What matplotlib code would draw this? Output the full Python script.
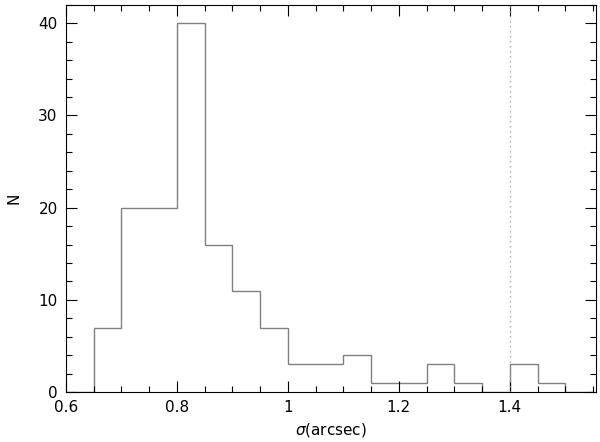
import matplotlib
matplotlib.use('Agg')
import matplotlib.pyplot as plt
from matplotlib.ticker import MultipleLocator

# histogram of seeing values, bin width 0.05
bin_edges = [0.60, 0.65, 0.70, 0.75, 0.80, 0.85, 0.90, 0.95, 1.00, 1.05, 1.10,
             1.15, 1.20, 1.25, 1.30, 1.35, 1.40, 1.45, 1.50, 1.55]
counts = [0, 7, 20, 20, 40, 16, 11, 7, 3, 3, 4, 1, 1, 3, 1, 0, 3, 1, 0]
cut_value = 1.4

fig = plt.figure(figsize=(6, 4.42), dpi=100)
ax = fig.add_axes([0.11, 0.113, 0.883, 0.876])

ax.stairs(counts, bin_edges, color='#808080', lw=1.0)
ax.axvline(cut_value, color='#999999', ls=(0, (1, 3)), lw=0.9)

ax.set_xlim(0.6, 1.555)
ax.set_ylim(0, 42)
ax.xaxis.set_major_locator(MultipleLocator(0.2))
ax.xaxis.set_minor_locator(MultipleLocator(0.05))
ax.yaxis.set_major_locator(MultipleLocator(10))
ax.yaxis.set_minor_locator(MultipleLocator(2))
ax.set_xticks([0.6, 0.8, 1.0, 1.2, 1.4], ['0.6', '0.8', '1', '1.2', '1.4'])
ax.tick_params(which='both', direction='in', top=True, right=True, labelsize=11, width=0.8)
ax.tick_params(which='major', length=8, pad=6)
ax.tick_params(which='minor', length=4)
for s in ax.spines.values():
    s.set_linewidth(0.8)

ax.set_xlabel(r'$\sigma$(arcsec)', fontsize=11, labelpad=4)
ax.set_ylabel('N', fontsize=11, labelpad=12)

fig.savefig('out.png', dpi=100)
